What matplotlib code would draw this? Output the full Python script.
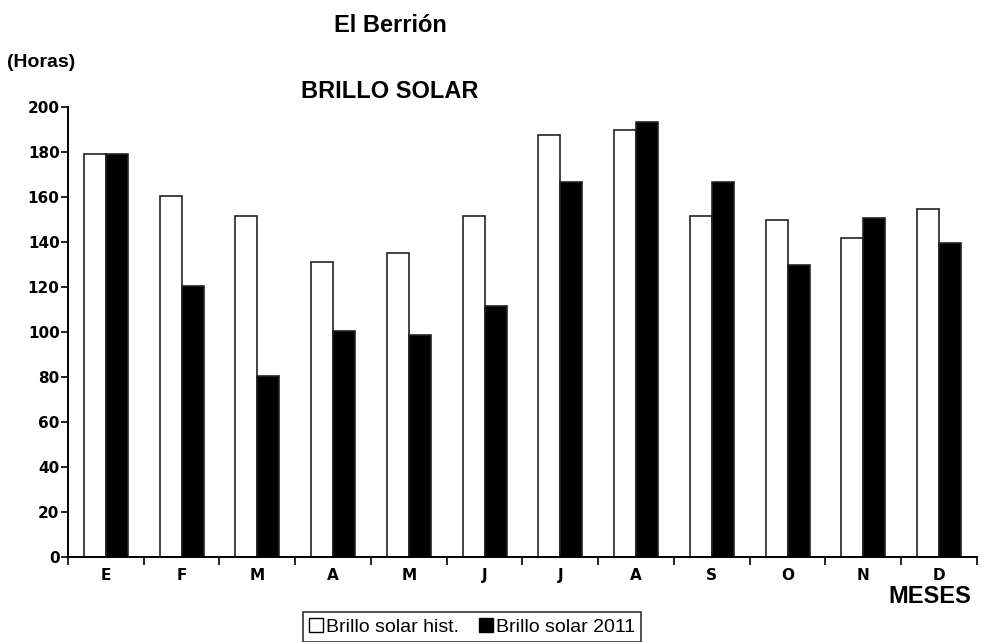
import numpy as np
import matplotlib
matplotlib.use("Agg")
import matplotlib.pyplot as plt
from matplotlib.patches import Rectangle

plt.rcParams["font.family"] = ["Liberation Sans", "DejaVu Sans"]

# Data
meses = ["E", "F", "M", "A", "M", "J", "J", "A", "S", "O", "N", "D"]
hist = [179, 160.5, 151.5, 131, 135, 151.5, 187.5, 189.5, 151.5, 149.5, 141.5, 154.5]
y2011 = [179, 120.5, 80.5, 100.5, 98.5, 111.5, 166.5, 193, 166.5, 129.5, 150.5, 139.5]

fig = plt.figure(figsize=(9.82, 6.42), dpi=100)
ax = fig.add_axes([0.0692, 0.1324, 0.9257, 0.7014])

x = np.arange(len(meses))
w = 0.29
ax.bar(x - w / 2, hist, w, color="white", edgecolor="#222222", linewidth=1.2)
ax.bar(x + w / 2, y2011, w, color="black", edgecolor="#222222", linewidth=1.2)

# Axes formatting
ax.set_xlim(-0.5, len(meses) - 0.5)
ax.set_ylim(0, 200)
ax.set_yticks(range(0, 201, 20))
ax.set_xticks(x)
ax.set_xticklabels(meses, fontweight="bold", fontsize=11, family="DejaVu Sans")
ax.set_xticks(np.arange(-0.5, len(meses), 1.0), minor=True)
ax.tick_params(axis="x", which="major", length=0, pad=8)
ax.tick_params(axis="x", which="minor", length=6, width=1.2, direction="out")
ax.tick_params(axis="y", length=5, width=1.2, direction="out", labelsize=11, pad=1)
for lab in ax.get_yticklabels():
    lab.set_fontweight("bold")
    lab.set_family("DejaVu Sans")

for s in ["top", "right"]:
    ax.spines[s].set_visible(False)
for s in ["left", "bottom"]:
    ax.spines[s].set_linewidth(1.4)

# Texts (placed on their baselines)
fig.text(390 / 982, 1 - 32 / 642, "El Berrión", ha="center", va="baseline",
         fontsize=17, fontweight="bold")
fig.text(390 / 982, 1 - 98 / 642, "BRILLO SOLAR", ha="center", va="baseline",
         fontsize=17, fontweight="bold")
fig.text(7 / 982, 1 - 67 / 642, "(Horas)", ha="left", va="baseline",
         fontsize=14, fontweight="bold")
fig.text(930 / 982, 1 - 603 / 642, "MESES", ha="center", va="baseline",
         fontsize=17, fontweight="bold")

# Legend
handles = [Rectangle((0, 0), 1, 1, facecolor="white", edgecolor="black", linewidth=1),
           Rectangle((0, 0), 1, 1, facecolor="black", edgecolor="black", linewidth=1)]
leg = fig.legend(handles, ["Brillo solar hist.", "Brillo solar 2011"],
                 loc="center", bbox_to_anchor=(472 / 982, 1 - 627 / 642),
                 ncol=2, fontsize=14, frameon=True, fancybox=False,
                 handlelength=0.75, handleheight=0.75, handletextpad=0.15,
                 columnspacing=1.0, borderpad=0.3, borderaxespad=0)
leg.get_frame().set_edgecolor("black")
leg.get_frame().set_linewidth(1.2)

fig.savefig("out.png", dpi=100)
